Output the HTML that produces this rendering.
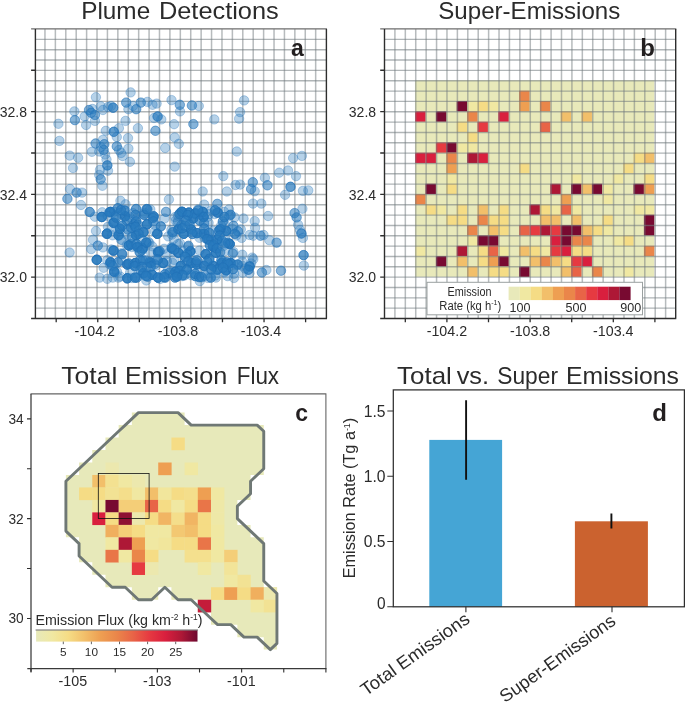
<!DOCTYPE html>
<html><head><meta charset="utf-8"><title>Figure</title>
<style>html,body{margin:0;padding:0;background:#fff}svg{display:block;font-family:"Liberation Sans", sans-serif}</style></head>
<body><svg width="685" height="702" viewBox="0 0 685 702">
<rect width="685" height="702" fill="#fff"/>
<path d="M44.96 28.9V318.5M55.37 28.9V318.5M65.79 28.9V318.5M76.20 28.9V318.5M86.61 28.9V318.5M97.02 28.9V318.5M107.43 28.9V318.5M117.85 28.9V318.5M128.26 28.9V318.5M138.67 28.9V318.5M149.08 28.9V318.5M159.49 28.9V318.5M169.91 28.9V318.5M180.32 28.9V318.5M190.73 28.9V318.5M201.14 28.9V318.5M211.55 28.9V318.5M221.97 28.9V318.5M232.38 28.9V318.5M242.79 28.9V318.5M253.20 28.9V318.5M263.61 28.9V318.5M274.03 28.9V318.5M284.44 28.9V318.5M294.85 28.9V318.5M305.26 28.9V318.5M315.67 28.9V318.5" stroke="#6f787b" stroke-opacity="0.5" stroke-width="1.5" fill="none"/>
<path d="M35.4 39.39H326.4M35.4 49.72H326.4M35.4 60.06H326.4M35.4 70.40H326.4M35.4 80.74H326.4M35.4 91.08H326.4M35.4 101.41H326.4M35.4 111.75H326.4M35.4 122.09H326.4M35.4 132.43H326.4M35.4 142.76H326.4M35.4 153.10H326.4M35.4 163.44H326.4M35.4 173.77H326.4M35.4 184.11H326.4M35.4 194.45H326.4M35.4 204.79H326.4M35.4 215.12H326.4M35.4 225.46H326.4M35.4 235.80H326.4M35.4 246.14H326.4M35.4 256.48H326.4M35.4 266.81H326.4M35.4 277.15H326.4M35.4 287.49H326.4M35.4 297.83H326.4M35.4 308.16H326.4" stroke="#6f787b" stroke-opacity="0.55" stroke-width="1.4" fill="none"/>
<g fill="#2a7abf" fill-opacity="0.34" stroke="#2472b8" stroke-opacity="0.4" stroke-width="0.8"><circle cx="58.4" cy="123.8" r="4.7"/><circle cx="59.4" cy="140.9" r="4.7"/><circle cx="74.4" cy="111.4" r="4.7"/><circle cx="74.9" cy="120.1" r="4.7"/><circle cx="74.9" cy="120.1" r="4.7"/><circle cx="69.7" cy="155.6" r="4.7"/><circle cx="78.1" cy="157.7" r="4.7"/><circle cx="73.0" cy="168.0" r="4.7"/><circle cx="95.9" cy="97.2" r="4.7"/><circle cx="84.6" cy="116.5" r="4.7"/><circle cx="86.1" cy="125.0" r="4.7"/><circle cx="89.0" cy="110.0" r="4.7"/><circle cx="89.0" cy="110.0" r="4.7"/><circle cx="91.2" cy="112.8" r="4.7"/><circle cx="91.2" cy="112.8" r="4.7"/><circle cx="94.9" cy="115.0" r="4.7"/><circle cx="94.9" cy="115.0" r="4.7"/><circle cx="94.9" cy="120.9" r="4.7"/><circle cx="92.5" cy="109.0" r="4.7"/><circle cx="100.7" cy="106.3" r="4.7"/><circle cx="102.9" cy="110.0" r="4.7"/><circle cx="108.0" cy="107.0" r="4.7"/><circle cx="113.1" cy="107.7" r="4.7"/><circle cx="113.1" cy="107.7" r="4.7"/><circle cx="113.1" cy="107.7" r="4.7"/><circle cx="111.0" cy="106.0" r="4.7"/><circle cx="126.2" cy="102.6" r="4.7"/><circle cx="126.2" cy="102.6" r="4.7"/><circle cx="130.6" cy="92.4" r="4.7"/><circle cx="128.4" cy="109.2" r="4.7"/><circle cx="125.5" cy="120.9" r="4.7"/><circle cx="105.8" cy="130.8" r="4.7"/><circle cx="113.8" cy="131.8" r="4.7"/><circle cx="113.8" cy="131.8" r="4.7"/><circle cx="113.8" cy="131.8" r="4.7"/><circle cx="118.9" cy="128.2" r="4.7"/><circle cx="116.8" cy="137.0" r="4.7"/><circle cx="128.0" cy="138.1" r="4.7"/><circle cx="95.6" cy="143.5" r="4.7"/><circle cx="95.6" cy="143.5" r="4.7"/><circle cx="102.9" cy="139.9" r="4.7"/><circle cx="104.3" cy="144.2" r="4.7"/><circle cx="104.3" cy="144.2" r="4.7"/><circle cx="91.9" cy="151.8" r="4.7"/><circle cx="99.2" cy="151.5" r="4.7"/><circle cx="103.6" cy="150.0" r="4.7"/><circle cx="103.6" cy="150.0" r="4.7"/><circle cx="105.1" cy="154.5" r="4.7"/><circle cx="116.8" cy="146.4" r="4.7"/><circle cx="116.8" cy="146.4" r="4.7"/><circle cx="121.1" cy="153.0" r="4.7"/><circle cx="122.6" cy="156.0" r="4.7"/><circle cx="128.4" cy="148.6" r="4.7"/><circle cx="129.9" cy="161.8" r="4.7"/><circle cx="106.5" cy="159.6" r="4.7"/><circle cx="107.3" cy="165.4" r="4.7"/><circle cx="107.3" cy="165.4" r="4.7"/><circle cx="107.3" cy="165.4" r="4.7"/><circle cx="100.0" cy="169.8" r="4.7"/><circle cx="99.2" cy="174.9" r="4.7"/><circle cx="100.7" cy="179.3" r="4.7"/><circle cx="100.7" cy="179.3" r="4.7"/><circle cx="119.0" cy="150.0" r="4.7"/><circle cx="101.0" cy="147.0" r="4.7"/><circle cx="140.8" cy="102.6" r="4.7"/><circle cx="140.8" cy="102.6" r="4.7"/><circle cx="147.4" cy="101.9" r="4.7"/><circle cx="152.5" cy="104.8" r="4.7"/><circle cx="156.6" cy="103.6" r="4.7"/><circle cx="136.2" cy="109.2" r="4.7"/><circle cx="136.2" cy="109.2" r="4.7"/><circle cx="133.0" cy="106.0" r="4.7"/><circle cx="137.9" cy="128.2" r="4.7"/><circle cx="171.5" cy="100.1" r="4.7"/><circle cx="179.8" cy="104.8" r="4.7"/><circle cx="179.8" cy="104.8" r="4.7"/><circle cx="180.0" cy="111.4" r="4.7"/><circle cx="191.9" cy="105.5" r="4.7"/><circle cx="191.9" cy="105.5" r="4.7"/><circle cx="198.8" cy="106.0" r="4.7"/><circle cx="157.6" cy="116.5" r="4.7"/><circle cx="157.6" cy="116.5" r="4.7"/><circle cx="157.6" cy="116.5" r="4.7"/><circle cx="161.3" cy="119.4" r="4.7"/><circle cx="154.0" cy="118.0" r="4.7"/><circle cx="155.4" cy="130.8" r="4.7"/><circle cx="155.4" cy="130.8" r="4.7"/><circle cx="174.1" cy="124.2" r="4.7"/><circle cx="193.4" cy="124.1" r="4.7"/><circle cx="193.4" cy="124.1" r="4.7"/><circle cx="214.3" cy="119.4" r="4.7"/><circle cx="174.7" cy="137.4" r="4.7"/><circle cx="178.8" cy="143.8" r="4.7"/><circle cx="165.2" cy="147.9" r="4.7"/><circle cx="174.7" cy="166.6" r="4.7"/><circle cx="223.3" cy="176.1" r="4.7"/><circle cx="244.1" cy="100.4" r="4.7"/><circle cx="240.1" cy="112.1" r="4.7"/><circle cx="239.1" cy="118.7" r="4.7"/><circle cx="236.8" cy="151.5" r="4.7"/><circle cx="293.1" cy="158.1" r="4.7"/><circle cx="301.9" cy="155.9" r="4.7"/><circle cx="279.2" cy="172.7" r="4.7"/><circle cx="288.0" cy="170.5" r="4.7"/><circle cx="296.0" cy="176.1" r="4.7"/><circle cx="264.9" cy="177.8" r="4.7"/><circle cx="252.8" cy="182.2" r="4.7"/><circle cx="252.8" cy="182.2" r="4.7"/><circle cx="70.0" cy="189.0" r="4.7"/><circle cx="76.6" cy="192.6" r="4.7"/><circle cx="76.6" cy="192.6" r="4.7"/><circle cx="82.0" cy="192.6" r="4.7"/><circle cx="67.4" cy="198.8" r="4.7"/><circle cx="67.4" cy="198.8" r="4.7"/><circle cx="81.0" cy="205.0" r="4.7"/><circle cx="89.7" cy="212.0" r="4.7"/><circle cx="89.7" cy="212.0" r="4.7"/><circle cx="89.7" cy="212.0" r="4.7"/><circle cx="102.4" cy="185.8" r="4.7"/><circle cx="108.0" cy="170.7" r="4.7"/><circle cx="69.6" cy="252.5" r="4.7"/><circle cx="96.0" cy="231.0" r="4.7"/><circle cx="93.0" cy="239.8" r="4.7"/><circle cx="97.8" cy="245.6" r="4.7"/><circle cx="97.8" cy="245.6" r="4.7"/><circle cx="91.2" cy="249.1" r="4.7"/><circle cx="102.9" cy="247.4" r="4.7"/><circle cx="96.8" cy="259.8" r="4.7"/><circle cx="96.8" cy="259.8" r="4.7"/><circle cx="96.8" cy="259.8" r="4.7"/><circle cx="96.8" cy="259.8" r="4.7"/><circle cx="96.8" cy="259.8" r="4.7"/><circle cx="96.8" cy="259.8" r="4.7"/><circle cx="120.4" cy="200.7" r="4.7"/><circle cx="125.5" cy="204.3" r="4.7"/><circle cx="94.9" cy="216.7" r="4.7"/><circle cx="102.2" cy="212.3" r="4.7"/><circle cx="103.6" cy="267.8" r="4.7"/><circle cx="267.4" cy="185.3" r="4.7"/><circle cx="267.4" cy="185.3" r="4.7"/><circle cx="240.1" cy="184.6" r="4.7"/><circle cx="235.5" cy="185.0" r="4.7"/><circle cx="251.1" cy="189.0" r="4.7"/><circle cx="251.1" cy="189.0" r="4.7"/><circle cx="254.7" cy="191.2" r="4.7"/><circle cx="290.5" cy="186.8" r="4.7"/><circle cx="290.5" cy="186.8" r="4.7"/><circle cx="290.5" cy="186.8" r="4.7"/><circle cx="285.1" cy="194.8" r="4.7"/><circle cx="302.9" cy="190.9" r="4.7"/><circle cx="308.3" cy="190.4" r="4.7"/><circle cx="253.0" cy="203.6" r="4.7"/><circle cx="261.3" cy="203.6" r="4.7"/><circle cx="302.4" cy="208.7" r="4.7"/><circle cx="294.6" cy="213.1" r="4.7"/><circle cx="294.6" cy="213.1" r="4.7"/><circle cx="296.6" cy="217.4" r="4.7"/><circle cx="296.6" cy="217.4" r="4.7"/><circle cx="298.1" cy="224.7" r="4.7"/><circle cx="300.0" cy="229.9" r="4.7"/><circle cx="301.4" cy="233.5" r="4.7"/><circle cx="301.4" cy="233.5" r="4.7"/><circle cx="301.4" cy="233.5" r="4.7"/><circle cx="302.9" cy="237.9" r="4.7"/><circle cx="268.1" cy="216.0" r="4.7"/><circle cx="243.5" cy="218.5" r="4.7"/><circle cx="254.7" cy="221.1" r="4.7"/><circle cx="255.1" cy="227.7" r="4.7"/><circle cx="249.6" cy="235.0" r="4.7"/><circle cx="253.2" cy="235.7" r="4.7"/><circle cx="260.5" cy="235.7" r="4.7"/><circle cx="260.5" cy="235.7" r="4.7"/><circle cx="263.5" cy="235.0" r="4.7"/><circle cx="269.3" cy="240.1" r="4.7"/><circle cx="276.6" cy="242.6" r="4.7"/><circle cx="276.6" cy="242.6" r="4.7"/><circle cx="237.9" cy="231.3" r="4.7"/><circle cx="237.9" cy="231.3" r="4.7"/><circle cx="241.6" cy="237.9" r="4.7"/><circle cx="303.6" cy="255.1" r="4.7"/><circle cx="303.6" cy="255.1" r="4.7"/><circle cx="303.6" cy="255.1" r="4.7"/><circle cx="303.9" cy="265.6" r="4.7"/><circle cx="242.3" cy="254.7" r="4.7"/><circle cx="251.1" cy="263.4" r="4.7"/><circle cx="249.6" cy="266.4" r="4.7"/><circle cx="249.6" cy="266.4" r="4.7"/><circle cx="249.6" cy="266.4" r="4.7"/><circle cx="249.6" cy="266.4" r="4.7"/><circle cx="249.6" cy="266.4" r="4.7"/><circle cx="266.4" cy="270.0" r="4.7"/><circle cx="281.0" cy="270.7" r="4.7"/><circle cx="281.0" cy="270.7" r="4.7"/><circle cx="101.8" cy="217.0" r="4.7"/><circle cx="101.8" cy="217.0" r="4.7"/><circle cx="101.8" cy="217.0" r="4.7"/><circle cx="101.8" cy="217.0" r="4.7"/><circle cx="101.8" cy="217.0" r="4.7"/><circle cx="101.8" cy="217.0" r="4.7"/><circle cx="110.5" cy="211.9" r="4.7"/><circle cx="110.5" cy="211.9" r="4.7"/><circle cx="110.5" cy="211.9" r="4.7"/><circle cx="110.5" cy="211.9" r="4.7"/><circle cx="110.5" cy="211.9" r="4.7"/><circle cx="110.5" cy="211.9" r="4.7"/><circle cx="117.8" cy="208.2" r="4.7"/><circle cx="117.8" cy="208.2" r="4.7"/><circle cx="117.8" cy="208.2" r="4.7"/><circle cx="113.5" cy="222.8" r="4.7"/><circle cx="113.5" cy="222.8" r="4.7"/><circle cx="113.5" cy="222.8" r="4.7"/><circle cx="113.5" cy="222.8" r="4.7"/><circle cx="113.5" cy="222.8" r="4.7"/><circle cx="113.5" cy="222.8" r="4.7"/><circle cx="125.1" cy="216.3" r="4.7"/><circle cx="125.1" cy="216.3" r="4.7"/><circle cx="125.1" cy="216.3" r="4.7"/><circle cx="125.1" cy="216.3" r="4.7"/><circle cx="125.1" cy="216.3" r="4.7"/><circle cx="125.1" cy="216.3" r="4.7"/><circle cx="124.4" cy="210.4" r="4.7"/><circle cx="124.4" cy="210.4" r="4.7"/><circle cx="124.4" cy="210.4" r="4.7"/><circle cx="136.1" cy="209.0" r="4.7"/><circle cx="136.1" cy="209.0" r="4.7"/><circle cx="136.1" cy="209.0" r="4.7"/><circle cx="144.1" cy="214.8" r="4.7"/><circle cx="144.1" cy="214.8" r="4.7"/><circle cx="144.1" cy="214.8" r="4.7"/><circle cx="144.1" cy="214.8" r="4.7"/><circle cx="153.6" cy="216.3" r="4.7"/><circle cx="153.6" cy="216.3" r="4.7"/><circle cx="153.6" cy="216.3" r="4.7"/><circle cx="153.6" cy="216.3" r="4.7"/><circle cx="147.0" cy="224.3" r="4.7"/><circle cx="147.0" cy="224.3" r="4.7"/><circle cx="147.0" cy="224.3" r="4.7"/><circle cx="147.0" cy="224.3" r="4.7"/><circle cx="147.0" cy="224.3" r="4.7"/><circle cx="147.0" cy="224.3" r="4.7"/><circle cx="133.9" cy="224.3" r="4.7"/><circle cx="133.9" cy="224.3" r="4.7"/><circle cx="133.9" cy="224.3" r="4.7"/><circle cx="106.9" cy="233.8" r="4.7"/><circle cx="106.9" cy="233.8" r="4.7"/><circle cx="106.9" cy="233.8" r="4.7"/><circle cx="106.9" cy="233.8" r="4.7"/><circle cx="106.9" cy="233.8" r="4.7"/><circle cx="106.9" cy="233.8" r="4.7"/><circle cx="118.6" cy="235.3" r="4.7"/><circle cx="118.6" cy="235.3" r="4.7"/><circle cx="118.6" cy="235.3" r="4.7"/><circle cx="118.6" cy="235.3" r="4.7"/><circle cx="118.6" cy="235.3" r="4.7"/><circle cx="118.6" cy="235.3" r="4.7"/><circle cx="120.0" cy="228.7" r="4.7"/><circle cx="120.0" cy="228.7" r="4.7"/><circle cx="120.0" cy="228.7" r="4.7"/><circle cx="120.0" cy="228.7" r="4.7"/><circle cx="120.0" cy="228.7" r="4.7"/><circle cx="120.0" cy="228.7" r="4.7"/><circle cx="136.1" cy="235.3" r="4.7"/><circle cx="136.1" cy="235.3" r="4.7"/><circle cx="136.1" cy="235.3" r="4.7"/><circle cx="136.1" cy="235.3" r="4.7"/><circle cx="136.1" cy="235.3" r="4.7"/><circle cx="136.1" cy="235.3" r="4.7"/><circle cx="143.4" cy="232.3" r="4.7"/><circle cx="143.4" cy="232.3" r="4.7"/><circle cx="143.4" cy="232.3" r="4.7"/><circle cx="143.4" cy="232.3" r="4.7"/><circle cx="143.4" cy="232.3" r="4.7"/><circle cx="143.4" cy="232.3" r="4.7"/><circle cx="157.3" cy="233.8" r="4.7"/><circle cx="157.3" cy="233.8" r="4.7"/><circle cx="157.3" cy="233.8" r="4.7"/><circle cx="157.3" cy="233.8" r="4.7"/><circle cx="157.3" cy="233.8" r="4.7"/><circle cx="157.3" cy="233.8" r="4.7"/><circle cx="128.8" cy="245.5" r="4.7"/><circle cx="128.8" cy="245.5" r="4.7"/><circle cx="128.8" cy="245.5" r="4.7"/><circle cx="128.8" cy="245.5" r="4.7"/><circle cx="128.8" cy="245.5" r="4.7"/><circle cx="128.8" cy="245.5" r="4.7"/><circle cx="142.7" cy="248.4" r="4.7"/><circle cx="142.7" cy="248.4" r="4.7"/><circle cx="142.7" cy="248.4" r="4.7"/><circle cx="142.7" cy="248.4" r="4.7"/><circle cx="142.7" cy="248.4" r="4.7"/><circle cx="142.7" cy="248.4" r="4.7"/><circle cx="146.3" cy="242.6" r="4.7"/><circle cx="146.3" cy="242.6" r="4.7"/><circle cx="146.3" cy="242.6" r="4.7"/><circle cx="146.3" cy="242.6" r="4.7"/><circle cx="146.3" cy="242.6" r="4.7"/><circle cx="146.3" cy="242.6" r="4.7"/><circle cx="137.6" cy="246.9" r="4.7"/><circle cx="137.6" cy="246.9" r="4.7"/><circle cx="137.6" cy="246.9" r="4.7"/><circle cx="137.6" cy="246.9" r="4.7"/><circle cx="137.6" cy="246.9" r="4.7"/><circle cx="137.6" cy="246.9" r="4.7"/><circle cx="158.0" cy="252.0" r="4.7"/><circle cx="158.0" cy="252.0" r="4.7"/><circle cx="158.0" cy="252.0" r="4.7"/><circle cx="158.0" cy="252.0" r="4.7"/><circle cx="158.0" cy="252.0" r="4.7"/><circle cx="158.0" cy="252.0" r="4.7"/><circle cx="171.9" cy="248.4" r="4.7"/><circle cx="171.9" cy="248.4" r="4.7"/><circle cx="171.9" cy="248.4" r="4.7"/><circle cx="171.9" cy="248.4" r="4.7"/><circle cx="171.9" cy="248.4" r="4.7"/><circle cx="171.9" cy="248.4" r="4.7"/><circle cx="113.5" cy="250.6" r="4.7"/><circle cx="113.5" cy="250.6" r="4.7"/><circle cx="113.5" cy="250.6" r="4.7"/><circle cx="113.5" cy="250.6" r="4.7"/><circle cx="113.5" cy="250.6" r="4.7"/><circle cx="113.5" cy="250.6" r="4.7"/><circle cx="122.2" cy="254.2" r="4.7"/><circle cx="122.2" cy="254.2" r="4.7"/><circle cx="122.2" cy="254.2" r="4.7"/><circle cx="110.5" cy="262.3" r="4.7"/><circle cx="110.5" cy="262.3" r="4.7"/><circle cx="110.5" cy="262.3" r="4.7"/><circle cx="110.5" cy="262.3" r="4.7"/><circle cx="110.5" cy="262.3" r="4.7"/><circle cx="110.5" cy="262.3" r="4.7"/><circle cx="114.2" cy="271.8" r="4.7"/><circle cx="114.2" cy="271.8" r="4.7"/><circle cx="114.2" cy="271.8" r="4.7"/><circle cx="114.2" cy="271.8" r="4.7"/><circle cx="114.2" cy="271.8" r="4.7"/><circle cx="114.2" cy="271.8" r="4.7"/><circle cx="127.3" cy="264.5" r="4.7"/><circle cx="127.3" cy="264.5" r="4.7"/><circle cx="127.3" cy="264.5" r="4.7"/><circle cx="127.3" cy="264.5" r="4.7"/><circle cx="127.3" cy="264.5" r="4.7"/><circle cx="127.3" cy="264.5" r="4.7"/><circle cx="127.3" cy="278.3" r="4.7"/><circle cx="127.3" cy="278.3" r="4.7"/><circle cx="127.3" cy="278.3" r="4.7"/><circle cx="127.3" cy="278.3" r="4.7"/><circle cx="127.3" cy="278.3" r="4.7"/><circle cx="127.3" cy="278.3" r="4.7"/><circle cx="135.4" cy="263.0" r="4.7"/><circle cx="135.4" cy="263.0" r="4.7"/><circle cx="135.4" cy="263.0" r="4.7"/><circle cx="135.4" cy="263.0" r="4.7"/><circle cx="135.4" cy="263.0" r="4.7"/><circle cx="135.4" cy="263.0" r="4.7"/><circle cx="143.4" cy="273.2" r="4.7"/><circle cx="143.4" cy="273.2" r="4.7"/><circle cx="143.4" cy="273.2" r="4.7"/><circle cx="143.4" cy="273.2" r="4.7"/><circle cx="143.4" cy="273.2" r="4.7"/><circle cx="143.4" cy="273.2" r="4.7"/><circle cx="150.7" cy="263.0" r="4.7"/><circle cx="150.7" cy="263.0" r="4.7"/><circle cx="150.7" cy="263.0" r="4.7"/><circle cx="150.7" cy="263.0" r="4.7"/><circle cx="150.7" cy="263.0" r="4.7"/><circle cx="150.7" cy="263.0" r="4.7"/><circle cx="152.2" cy="274.7" r="4.7"/><circle cx="152.2" cy="274.7" r="4.7"/><circle cx="152.2" cy="274.7" r="4.7"/><circle cx="152.2" cy="274.7" r="4.7"/><circle cx="152.2" cy="274.7" r="4.7"/><circle cx="152.2" cy="274.7" r="4.7"/><circle cx="163.1" cy="263.0" r="4.7"/><circle cx="163.1" cy="263.0" r="4.7"/><circle cx="163.1" cy="263.0" r="4.7"/><circle cx="163.1" cy="263.0" r="4.7"/><circle cx="163.1" cy="263.0" r="4.7"/><circle cx="163.1" cy="263.0" r="4.7"/><circle cx="158.0" cy="277.6" r="4.7"/><circle cx="158.0" cy="277.6" r="4.7"/><circle cx="158.0" cy="277.6" r="4.7"/><circle cx="158.0" cy="277.6" r="4.7"/><circle cx="158.0" cy="277.6" r="4.7"/><circle cx="158.0" cy="277.6" r="4.7"/><circle cx="175.5" cy="271.8" r="4.7"/><circle cx="175.5" cy="271.8" r="4.7"/><circle cx="175.5" cy="271.8" r="4.7"/><circle cx="175.5" cy="271.8" r="4.7"/><circle cx="175.5" cy="271.8" r="4.7"/><circle cx="175.5" cy="271.8" r="4.7"/><circle cx="177.0" cy="276.1" r="4.7"/><circle cx="177.0" cy="276.1" r="4.7"/><circle cx="177.0" cy="276.1" r="4.7"/><circle cx="177.0" cy="276.1" r="4.7"/><circle cx="177.0" cy="276.1" r="4.7"/><circle cx="177.0" cy="276.1" r="4.7"/><circle cx="182.1" cy="211.9" r="4.7"/><circle cx="182.1" cy="211.9" r="4.7"/><circle cx="182.1" cy="211.9" r="4.7"/><circle cx="182.1" cy="211.9" r="4.7"/><circle cx="182.1" cy="211.9" r="4.7"/><circle cx="182.1" cy="211.9" r="4.7"/><circle cx="178.4" cy="229.4" r="4.7"/><circle cx="178.4" cy="229.4" r="4.7"/><circle cx="178.4" cy="229.4" r="4.7"/><circle cx="178.4" cy="229.4" r="4.7"/><circle cx="178.4" cy="229.4" r="4.7"/><circle cx="178.4" cy="229.4" r="4.7"/><circle cx="172.6" cy="232.3" r="4.7"/><circle cx="172.6" cy="232.3" r="4.7"/><circle cx="172.6" cy="232.3" r="4.7"/><circle cx="168.9" cy="199.5" r="4.7"/><circle cx="166.0" cy="211.9" r="4.7"/><circle cx="166.0" cy="211.9" r="4.7"/><circle cx="164.6" cy="218.5" r="4.7"/><circle cx="99.6" cy="277.6" r="4.7"/><circle cx="112.7" cy="277.6" r="4.7"/><circle cx="136.8" cy="277.6" r="4.7"/><circle cx="136.8" cy="277.6" r="4.7"/><circle cx="136.8" cy="277.6" r="4.7"/><circle cx="146.3" cy="280.5" r="4.7"/><circle cx="165.3" cy="277.6" r="4.7"/><circle cx="165.3" cy="277.6" r="4.7"/><circle cx="165.3" cy="277.6" r="4.7"/><circle cx="172.6" cy="263.0" r="4.7"/><circle cx="178.4" cy="252.8" r="4.7"/><circle cx="178.4" cy="252.8" r="4.7"/><circle cx="178.4" cy="252.8" r="4.7"/><circle cx="178.4" cy="252.8" r="4.7"/><circle cx="178.4" cy="252.8" r="4.7"/><circle cx="178.4" cy="252.8" r="4.7"/><circle cx="166.8" cy="254.2" r="4.7"/><circle cx="175.5" cy="220.7" r="4.7"/><circle cx="181.4" cy="225.0" r="4.7"/><circle cx="181.4" cy="225.0" r="4.7"/><circle cx="188.9" cy="212.6" r="4.7"/><circle cx="188.9" cy="212.6" r="4.7"/><circle cx="188.9" cy="212.6" r="4.7"/><circle cx="188.9" cy="212.6" r="4.7"/><circle cx="188.9" cy="212.6" r="4.7"/><circle cx="188.9" cy="212.6" r="4.7"/><circle cx="195.4" cy="213.4" r="4.7"/><circle cx="195.4" cy="213.4" r="4.7"/><circle cx="195.4" cy="213.4" r="4.7"/><circle cx="195.4" cy="213.4" r="4.7"/><circle cx="195.4" cy="213.4" r="4.7"/><circle cx="195.4" cy="213.4" r="4.7"/><circle cx="202.7" cy="211.9" r="4.7"/><circle cx="202.7" cy="211.9" r="4.7"/><circle cx="202.7" cy="211.9" r="4.7"/><circle cx="202.7" cy="211.9" r="4.7"/><circle cx="202.7" cy="211.9" r="4.7"/><circle cx="202.7" cy="211.9" r="4.7"/><circle cx="193.2" cy="218.5" r="4.7"/><circle cx="193.2" cy="218.5" r="4.7"/><circle cx="193.2" cy="218.5" r="4.7"/><circle cx="193.2" cy="218.5" r="4.7"/><circle cx="193.2" cy="218.5" r="4.7"/><circle cx="193.2" cy="218.5" r="4.7"/><circle cx="203.5" cy="217.0" r="4.7"/><circle cx="203.5" cy="217.0" r="4.7"/><circle cx="203.5" cy="217.0" r="4.7"/><circle cx="203.5" cy="217.0" r="4.7"/><circle cx="203.5" cy="217.0" r="4.7"/><circle cx="203.5" cy="217.0" r="4.7"/><circle cx="217.6" cy="212.6" r="4.7"/><circle cx="217.6" cy="212.6" r="4.7"/><circle cx="217.6" cy="212.6" r="4.7"/><circle cx="217.6" cy="212.6" r="4.7"/><circle cx="217.6" cy="212.6" r="4.7"/><circle cx="217.6" cy="212.6" r="4.7"/><circle cx="230.5" cy="214.8" r="4.7"/><circle cx="230.5" cy="214.8" r="4.7"/><circle cx="230.5" cy="214.8" r="4.7"/><circle cx="222.9" cy="221.4" r="4.7"/><circle cx="222.9" cy="221.4" r="4.7"/><circle cx="222.9" cy="221.4" r="4.7"/><circle cx="183.8" cy="233.8" r="4.7"/><circle cx="183.8" cy="233.8" r="4.7"/><circle cx="183.8" cy="233.8" r="4.7"/><circle cx="183.8" cy="233.8" r="4.7"/><circle cx="183.8" cy="233.8" r="4.7"/><circle cx="183.8" cy="233.8" r="4.7"/><circle cx="191.1" cy="229.4" r="4.7"/><circle cx="191.1" cy="229.4" r="4.7"/><circle cx="191.1" cy="229.4" r="4.7"/><circle cx="191.1" cy="229.4" r="4.7"/><circle cx="191.1" cy="229.4" r="4.7"/><circle cx="191.1" cy="229.4" r="4.7"/><circle cx="196.9" cy="233.1" r="4.7"/><circle cx="196.9" cy="233.1" r="4.7"/><circle cx="196.9" cy="233.1" r="4.7"/><circle cx="196.9" cy="233.1" r="4.7"/><circle cx="196.9" cy="233.1" r="4.7"/><circle cx="196.9" cy="233.1" r="4.7"/><circle cx="204.2" cy="233.8" r="4.7"/><circle cx="204.2" cy="233.8" r="4.7"/><circle cx="204.2" cy="233.8" r="4.7"/><circle cx="204.2" cy="233.8" r="4.7"/><circle cx="204.2" cy="233.8" r="4.7"/><circle cx="204.2" cy="233.8" r="4.7"/><circle cx="208.6" cy="239.6" r="4.7"/><circle cx="208.6" cy="239.6" r="4.7"/><circle cx="208.6" cy="239.6" r="4.7"/><circle cx="208.6" cy="239.6" r="4.7"/><circle cx="208.6" cy="239.6" r="4.7"/><circle cx="208.6" cy="239.6" r="4.7"/><circle cx="217.3" cy="239.6" r="4.7"/><circle cx="217.3" cy="239.6" r="4.7"/><circle cx="217.3" cy="239.6" r="4.7"/><circle cx="217.3" cy="239.6" r="4.7"/><circle cx="217.3" cy="239.6" r="4.7"/><circle cx="217.3" cy="239.6" r="4.7"/><circle cx="226.1" cy="230.9" r="4.7"/><circle cx="226.1" cy="230.9" r="4.7"/><circle cx="226.1" cy="230.9" r="4.7"/><circle cx="226.1" cy="230.9" r="4.7"/><circle cx="226.1" cy="230.9" r="4.7"/><circle cx="226.1" cy="230.9" r="4.7"/><circle cx="220.3" cy="229.4" r="4.7"/><circle cx="220.3" cy="229.4" r="4.7"/><circle cx="220.3" cy="229.4" r="4.7"/><circle cx="220.3" cy="229.4" r="4.7"/><circle cx="220.3" cy="229.4" r="4.7"/><circle cx="220.3" cy="229.4" r="4.7"/><circle cx="229.7" cy="244.0" r="4.7"/><circle cx="229.7" cy="244.0" r="4.7"/><circle cx="229.7" cy="244.0" r="4.7"/><circle cx="229.7" cy="244.0" r="4.7"/><circle cx="229.7" cy="244.0" r="4.7"/><circle cx="229.7" cy="244.0" r="4.7"/><circle cx="213.0" cy="246.9" r="4.7"/><circle cx="213.0" cy="246.9" r="4.7"/><circle cx="213.0" cy="246.9" r="4.7"/><circle cx="213.0" cy="246.9" r="4.7"/><circle cx="213.0" cy="246.9" r="4.7"/><circle cx="213.0" cy="246.9" r="4.7"/><circle cx="215.9" cy="252.8" r="4.7"/><circle cx="215.9" cy="252.8" r="4.7"/><circle cx="215.9" cy="252.8" r="4.7"/><circle cx="215.9" cy="252.8" r="4.7"/><circle cx="215.9" cy="252.8" r="4.7"/><circle cx="215.9" cy="252.8" r="4.7"/><circle cx="205.7" cy="254.2" r="4.7"/><circle cx="205.7" cy="254.2" r="4.7"/><circle cx="205.7" cy="254.2" r="4.7"/><circle cx="205.7" cy="254.2" r="4.7"/><circle cx="205.7" cy="254.2" r="4.7"/><circle cx="205.7" cy="254.2" r="4.7"/><circle cx="190.3" cy="251.3" r="4.7"/><circle cx="190.3" cy="251.3" r="4.7"/><circle cx="190.3" cy="251.3" r="4.7"/><circle cx="190.3" cy="251.3" r="4.7"/><circle cx="190.3" cy="251.3" r="4.7"/><circle cx="190.3" cy="251.3" r="4.7"/><circle cx="191.1" cy="263.0" r="4.7"/><circle cx="191.1" cy="263.0" r="4.7"/><circle cx="191.1" cy="263.0" r="4.7"/><circle cx="191.1" cy="263.0" r="4.7"/><circle cx="191.1" cy="263.0" r="4.7"/><circle cx="191.1" cy="263.0" r="4.7"/><circle cx="196.9" cy="264.5" r="4.7"/><circle cx="196.9" cy="264.5" r="4.7"/><circle cx="196.9" cy="264.5" r="4.7"/><circle cx="196.9" cy="264.5" r="4.7"/><circle cx="196.9" cy="264.5" r="4.7"/><circle cx="196.9" cy="264.5" r="4.7"/><circle cx="204.2" cy="265.9" r="4.7"/><circle cx="204.2" cy="265.9" r="4.7"/><circle cx="204.2" cy="265.9" r="4.7"/><circle cx="204.2" cy="265.9" r="4.7"/><circle cx="204.2" cy="265.9" r="4.7"/><circle cx="204.2" cy="265.9" r="4.7"/><circle cx="213.0" cy="265.9" r="4.7"/><circle cx="213.0" cy="265.9" r="4.7"/><circle cx="213.0" cy="265.9" r="4.7"/><circle cx="213.0" cy="265.9" r="4.7"/><circle cx="213.0" cy="265.9" r="4.7"/><circle cx="213.0" cy="265.9" r="4.7"/><circle cx="221.7" cy="263.0" r="4.7"/><circle cx="221.7" cy="263.0" r="4.7"/><circle cx="221.7" cy="263.0" r="4.7"/><circle cx="221.7" cy="263.0" r="4.7"/><circle cx="221.7" cy="263.0" r="4.7"/><circle cx="221.7" cy="263.0" r="4.7"/><circle cx="230.5" cy="263.0" r="4.7"/><circle cx="230.5" cy="263.0" r="4.7"/><circle cx="230.5" cy="263.0" r="4.7"/><circle cx="230.5" cy="263.0" r="4.7"/><circle cx="230.5" cy="263.0" r="4.7"/><circle cx="230.5" cy="263.0" r="4.7"/><circle cx="226.1" cy="270.3" r="4.7"/><circle cx="226.1" cy="270.3" r="4.7"/><circle cx="226.1" cy="270.3" r="4.7"/><circle cx="226.1" cy="270.3" r="4.7"/><circle cx="226.1" cy="270.3" r="4.7"/><circle cx="226.1" cy="270.3" r="4.7"/><circle cx="217.3" cy="269.6" r="4.7"/><circle cx="217.3" cy="269.6" r="4.7"/><circle cx="217.3" cy="269.6" r="4.7"/><circle cx="217.3" cy="269.6" r="4.7"/><circle cx="217.3" cy="269.6" r="4.7"/><circle cx="217.3" cy="269.6" r="4.7"/><circle cx="210.8" cy="277.6" r="4.7"/><circle cx="210.8" cy="277.6" r="4.7"/><circle cx="210.8" cy="277.6" r="4.7"/><circle cx="177.9" cy="273.2" r="4.7"/><circle cx="177.9" cy="273.2" r="4.7"/><circle cx="177.9" cy="273.2" r="4.7"/><circle cx="177.9" cy="273.2" r="4.7"/><circle cx="177.9" cy="273.2" r="4.7"/><circle cx="177.9" cy="273.2" r="4.7"/><circle cx="180.8" cy="265.9" r="4.7"/><circle cx="180.8" cy="265.9" r="4.7"/><circle cx="180.8" cy="265.9" r="4.7"/><circle cx="180.8" cy="265.9" r="4.7"/><circle cx="180.8" cy="265.9" r="4.7"/><circle cx="180.8" cy="265.9" r="4.7"/><circle cx="195.4" cy="276.1" r="4.7"/><circle cx="195.4" cy="276.1" r="4.7"/><circle cx="195.4" cy="276.1" r="4.7"/><circle cx="199.8" cy="281.2" r="4.7"/><circle cx="185.2" cy="274.7" r="4.7"/><circle cx="215.9" cy="277.6" r="4.7"/><circle cx="227.6" cy="276.1" r="4.7"/><circle cx="237.8" cy="264.5" r="4.7"/><circle cx="237.8" cy="264.5" r="4.7"/><circle cx="237.8" cy="264.5" r="4.7"/><circle cx="242.2" cy="261.5" r="4.7"/><circle cx="249.5" cy="273.2" r="4.7"/><circle cx="261.9" cy="272.5" r="4.7"/><circle cx="261.9" cy="272.5" r="4.7"/><circle cx="232.7" cy="253.5" r="4.7"/><circle cx="232.7" cy="253.5" r="4.7"/><circle cx="224.6" cy="251.3" r="4.7"/><circle cx="233.4" cy="225.8" r="4.7"/><circle cx="233.4" cy="225.8" r="4.7"/><circle cx="217.3" cy="203.9" r="4.7"/><circle cx="217.3" cy="203.9" r="4.7"/><circle cx="204.2" cy="204.6" r="4.7"/><circle cx="202.7" cy="191.5" r="4.7"/><circle cx="226.8" cy="191.5" r="4.7"/><circle cx="208.6" cy="222.8" r="4.7"/><circle cx="211.5" cy="210.4" r="4.7"/><circle cx="177.9" cy="220.7" r="4.7"/><circle cx="183.8" cy="222.1" r="4.7"/><circle cx="188.1" cy="246.9" r="4.7"/><circle cx="177.9" cy="244.0" r="4.7"/><circle cx="185.2" cy="260.1" r="4.7"/><circle cx="182.3" cy="276.1" r="4.7"/><circle cx="109.5" cy="212.4" r="4.7"/><circle cx="109.5" cy="212.4" r="4.7"/><circle cx="109.5" cy="212.4" r="4.7"/><circle cx="114.2" cy="211.8" r="4.7"/><circle cx="120.9" cy="210.1" r="4.7"/><circle cx="120.9" cy="210.1" r="4.7"/><circle cx="120.9" cy="210.1" r="4.7"/><circle cx="120.1" cy="212.8" r="4.7"/><circle cx="125.9" cy="210.8" r="4.7"/><circle cx="133.1" cy="213.2" r="4.7"/><circle cx="135.4" cy="214.9" r="4.7"/><circle cx="135.4" cy="214.9" r="4.7"/><circle cx="135.4" cy="214.9" r="4.7"/><circle cx="144.6" cy="212.9" r="4.7"/><circle cx="146.6" cy="209.1" r="4.7"/><circle cx="146.6" cy="209.1" r="4.7"/><circle cx="146.6" cy="209.1" r="4.7"/><circle cx="150.3" cy="209.4" r="4.7"/><circle cx="147.4" cy="209.2" r="4.7"/><circle cx="147.4" cy="209.2" r="4.7"/><circle cx="179.4" cy="214.1" r="4.7"/><circle cx="179.4" cy="214.1" r="4.7"/><circle cx="179.4" cy="214.1" r="4.7"/><circle cx="180.2" cy="212.8" r="4.7"/><circle cx="181.6" cy="211.7" r="4.7"/><circle cx="181.6" cy="211.7" r="4.7"/><circle cx="187.8" cy="215.0" r="4.7"/><circle cx="187.8" cy="215.0" r="4.7"/><circle cx="187.8" cy="215.0" r="4.7"/><circle cx="195.0" cy="214.0" r="4.7"/><circle cx="198.2" cy="210.4" r="4.7"/><circle cx="198.2" cy="210.4" r="4.7"/><circle cx="198.2" cy="210.4" r="4.7"/><circle cx="197.9" cy="209.4" r="4.7"/><circle cx="209.0" cy="214.1" r="4.7"/><circle cx="214.6" cy="214.1" r="4.7"/><circle cx="215.0" cy="210.3" r="4.7"/><circle cx="215.0" cy="210.3" r="4.7"/><circle cx="215.0" cy="210.3" r="4.7"/><circle cx="224.1" cy="211.8" r="4.7"/><circle cx="229.0" cy="209.4" r="4.7"/><circle cx="107.7" cy="215.9" r="4.7"/><circle cx="114.6" cy="222.6" r="4.7"/><circle cx="116.2" cy="217.5" r="4.7"/><circle cx="116.2" cy="217.5" r="4.7"/><circle cx="116.2" cy="217.5" r="4.7"/><circle cx="116.0" cy="215.6" r="4.7"/><circle cx="126.8" cy="220.6" r="4.7"/><circle cx="126.8" cy="220.6" r="4.7"/><circle cx="126.8" cy="220.6" r="4.7"/><circle cx="129.5" cy="216.9" r="4.7"/><circle cx="136.3" cy="221.4" r="4.7"/><circle cx="136.3" cy="221.4" r="4.7"/><circle cx="136.3" cy="221.4" r="4.7"/><circle cx="136.2" cy="219.2" r="4.7"/><circle cx="137.7" cy="224.7" r="4.7"/><circle cx="137.7" cy="224.7" r="4.7"/><circle cx="153.0" cy="218.0" r="4.7"/><circle cx="153.0" cy="218.0" r="4.7"/><circle cx="153.0" cy="218.0" r="4.7"/><circle cx="153.8" cy="217.1" r="4.7"/><circle cx="153.5" cy="221.4" r="4.7"/><circle cx="153.5" cy="221.4" r="4.7"/><circle cx="174.9" cy="217.1" r="4.7"/><circle cx="177.6" cy="222.7" r="4.7"/><circle cx="178.0" cy="215.7" r="4.7"/><circle cx="185.9" cy="220.8" r="4.7"/><circle cx="185.9" cy="220.8" r="4.7"/><circle cx="185.9" cy="220.8" r="4.7"/><circle cx="187.4" cy="221.0" r="4.7"/><circle cx="189.5" cy="224.6" r="4.7"/><circle cx="189.5" cy="224.6" r="4.7"/><circle cx="199.8" cy="220.7" r="4.7"/><circle cx="199.8" cy="220.7" r="4.7"/><circle cx="199.8" cy="220.7" r="4.7"/><circle cx="203.7" cy="216.8" r="4.7"/><circle cx="204.1" cy="223.2" r="4.7"/><circle cx="204.1" cy="223.2" r="4.7"/><circle cx="207.5" cy="216.9" r="4.7"/><circle cx="224.4" cy="217.0" r="4.7"/><circle cx="224.4" cy="217.0" r="4.7"/><circle cx="224.4" cy="217.0" r="4.7"/><circle cx="224.5" cy="223.8" r="4.7"/><circle cx="229.2" cy="216.0" r="4.7"/><circle cx="234.6" cy="217.4" r="4.7"/><circle cx="107.6" cy="233.2" r="4.7"/><circle cx="107.9" cy="226.8" r="4.7"/><circle cx="122.2" cy="225.7" r="4.7"/><circle cx="122.2" cy="225.7" r="4.7"/><circle cx="122.2" cy="225.7" r="4.7"/><circle cx="117.3" cy="230.6" r="4.7"/><circle cx="131.1" cy="227.8" r="4.7"/><circle cx="131.1" cy="227.8" r="4.7"/><circle cx="131.1" cy="227.8" r="4.7"/><circle cx="134.2" cy="227.0" r="4.7"/><circle cx="127.7" cy="229.5" r="4.7"/><circle cx="127.7" cy="229.5" r="4.7"/><circle cx="135.6" cy="226.8" r="4.7"/><circle cx="135.6" cy="226.8" r="4.7"/><circle cx="135.6" cy="226.8" r="4.7"/><circle cx="138.7" cy="230.7" r="4.7"/><circle cx="138.6" cy="233.9" r="4.7"/><circle cx="138.6" cy="233.9" r="4.7"/><circle cx="154.8" cy="231.6" r="4.7"/><circle cx="160.8" cy="226.4" r="4.7"/><circle cx="160.8" cy="226.4" r="4.7"/><circle cx="160.8" cy="226.4" r="4.7"/><circle cx="155.4" cy="225.2" r="4.7"/><circle cx="172.0" cy="234.6" r="4.7"/><circle cx="171.4" cy="229.8" r="4.7"/><circle cx="182.3" cy="228.2" r="4.7"/><circle cx="182.3" cy="228.2" r="4.7"/><circle cx="182.3" cy="228.2" r="4.7"/><circle cx="185.0" cy="225.8" r="4.7"/><circle cx="192.4" cy="234.0" r="4.7"/><circle cx="192.4" cy="234.0" r="4.7"/><circle cx="192.4" cy="234.0" r="4.7"/><circle cx="192.4" cy="232.0" r="4.7"/><circle cx="204.2" cy="228.5" r="4.7"/><circle cx="204.2" cy="228.5" r="4.7"/><circle cx="204.2" cy="228.5" r="4.7"/><circle cx="201.9" cy="234.0" r="4.7"/><circle cx="209.2" cy="232.9" r="4.7"/><circle cx="209.2" cy="232.9" r="4.7"/><circle cx="209.2" cy="232.9" r="4.7"/><circle cx="213.6" cy="230.7" r="4.7"/><circle cx="218.8" cy="230.8" r="4.7"/><circle cx="218.8" cy="230.8" r="4.7"/><circle cx="218.8" cy="230.8" r="4.7"/><circle cx="221.1" cy="225.8" r="4.7"/><circle cx="234.9" cy="233.8" r="4.7"/><circle cx="234.9" cy="233.8" r="4.7"/><circle cx="234.9" cy="233.8" r="4.7"/><circle cx="232.3" cy="228.9" r="4.7"/><circle cx="240.8" cy="229.4" r="4.7"/><circle cx="112.5" cy="235.3" r="4.7"/><circle cx="121.0" cy="239.8" r="4.7"/><circle cx="122.0" cy="240.0" r="4.7"/><circle cx="131.1" cy="244.2" r="4.7"/><circle cx="131.1" cy="244.2" r="4.7"/><circle cx="131.1" cy="244.2" r="4.7"/><circle cx="127.6" cy="235.1" r="4.7"/><circle cx="131.8" cy="237.0" r="4.7"/><circle cx="131.8" cy="237.0" r="4.7"/><circle cx="136.7" cy="244.1" r="4.7"/><circle cx="136.7" cy="244.1" r="4.7"/><circle cx="136.7" cy="244.1" r="4.7"/><circle cx="141.6" cy="239.4" r="4.7"/><circle cx="148.3" cy="241.7" r="4.7"/><circle cx="149.3" cy="243.1" r="4.7"/><circle cx="173.8" cy="238.8" r="4.7"/><circle cx="168.2" cy="236.4" r="4.7"/><circle cx="180.0" cy="243.4" r="4.7"/><circle cx="204.5" cy="237.8" r="4.7"/><circle cx="199.5" cy="237.8" r="4.7"/><circle cx="207.1" cy="239.1" r="4.7"/><circle cx="207.1" cy="239.1" r="4.7"/><circle cx="207.1" cy="239.1" r="4.7"/><circle cx="211.3" cy="239.9" r="4.7"/><circle cx="213.4" cy="244.8" r="4.7"/><circle cx="213.4" cy="244.8" r="4.7"/><circle cx="219.5" cy="235.7" r="4.7"/><circle cx="219.5" cy="235.7" r="4.7"/><circle cx="219.5" cy="235.7" r="4.7"/><circle cx="215.3" cy="243.7" r="4.7"/><circle cx="222.1" cy="240.7" r="4.7"/><circle cx="222.1" cy="240.7" r="4.7"/><circle cx="228.1" cy="242.9" r="4.7"/><circle cx="228.1" cy="242.9" r="4.7"/><circle cx="228.1" cy="242.9" r="4.7"/><circle cx="225.2" cy="236.4" r="4.7"/><circle cx="225.2" cy="243.3" r="4.7"/><circle cx="225.2" cy="243.3" r="4.7"/><circle cx="236.4" cy="235.5" r="4.7"/><circle cx="111.3" cy="249.5" r="4.7"/><circle cx="121.6" cy="253.1" r="4.7"/><circle cx="131.8" cy="247.0" r="4.7"/><circle cx="126.8" cy="245.1" r="4.7"/><circle cx="139.7" cy="252.1" r="4.7"/><circle cx="139.7" cy="252.1" r="4.7"/><circle cx="139.7" cy="252.1" r="4.7"/><circle cx="136.8" cy="247.7" r="4.7"/><circle cx="142.0" cy="250.2" r="4.7"/><circle cx="142.0" cy="250.2" r="4.7"/><circle cx="151.1" cy="252.6" r="4.7"/><circle cx="152.2" cy="246.3" r="4.7"/><circle cx="159.5" cy="251.3" r="4.7"/><circle cx="159.5" cy="251.3" r="4.7"/><circle cx="159.5" cy="251.3" r="4.7"/><circle cx="164.1" cy="248.8" r="4.7"/><circle cx="174.4" cy="249.6" r="4.7"/><circle cx="174.4" cy="249.6" r="4.7"/><circle cx="174.4" cy="249.6" r="4.7"/><circle cx="171.5" cy="247.0" r="4.7"/><circle cx="183.2" cy="251.4" r="4.7"/><circle cx="187.1" cy="254.0" r="4.7"/><circle cx="187.1" cy="254.0" r="4.7"/><circle cx="187.1" cy="254.0" r="4.7"/><circle cx="190.4" cy="252.9" r="4.7"/><circle cx="188.5" cy="245.8" r="4.7"/><circle cx="188.5" cy="245.8" r="4.7"/><circle cx="199.4" cy="250.5" r="4.7"/><circle cx="209.9" cy="245.3" r="4.7"/><circle cx="209.9" cy="245.3" r="4.7"/><circle cx="209.9" cy="245.3" r="4.7"/><circle cx="213.1" cy="245.6" r="4.7"/><circle cx="216.7" cy="248.4" r="4.7"/><circle cx="216.7" cy="248.4" r="4.7"/><circle cx="216.7" cy="248.4" r="4.7"/><circle cx="222.9" cy="246.4" r="4.7"/><circle cx="220.2" cy="252.2" r="4.7"/><circle cx="220.2" cy="252.2" r="4.7"/><circle cx="233.4" cy="251.9" r="4.7"/><circle cx="109.9" cy="264.5" r="4.7"/><circle cx="107.2" cy="260.3" r="4.7"/><circle cx="117.9" cy="262.3" r="4.7"/><circle cx="117.9" cy="262.3" r="4.7"/><circle cx="117.9" cy="262.3" r="4.7"/><circle cx="121.4" cy="260.2" r="4.7"/><circle cx="128.8" cy="263.5" r="4.7"/><circle cx="128.8" cy="263.5" r="4.7"/><circle cx="128.8" cy="263.5" r="4.7"/><circle cx="133.5" cy="264.7" r="4.7"/><circle cx="140.4" cy="260.0" r="4.7"/><circle cx="140.4" cy="260.0" r="4.7"/><circle cx="140.4" cy="260.0" r="4.7"/><circle cx="144.7" cy="260.2" r="4.7"/><circle cx="143.0" cy="260.6" r="4.7"/><circle cx="143.0" cy="260.6" r="4.7"/><circle cx="149.9" cy="261.9" r="4.7"/><circle cx="149.9" cy="261.9" r="4.7"/><circle cx="149.9" cy="261.9" r="4.7"/><circle cx="145.7" cy="260.4" r="4.7"/><circle cx="154.6" cy="264.2" r="4.7"/><circle cx="154.6" cy="264.2" r="4.7"/><circle cx="157.7" cy="259.7" r="4.7"/><circle cx="157.7" cy="259.7" r="4.7"/><circle cx="157.7" cy="259.7" r="4.7"/><circle cx="156.3" cy="259.3" r="4.7"/><circle cx="174.0" cy="259.8" r="4.7"/><circle cx="166.9" cy="261.2" r="4.7"/><circle cx="184.3" cy="256.3" r="4.7"/><circle cx="185.2" cy="256.9" r="4.7"/><circle cx="185.2" cy="256.9" r="4.7"/><circle cx="185.2" cy="256.9" r="4.7"/><circle cx="187.3" cy="261.9" r="4.7"/><circle cx="188.6" cy="261.2" r="4.7"/><circle cx="188.6" cy="261.2" r="4.7"/><circle cx="196.0" cy="262.3" r="4.7"/><circle cx="196.0" cy="262.3" r="4.7"/><circle cx="196.0" cy="262.3" r="4.7"/><circle cx="196.2" cy="260.1" r="4.7"/><circle cx="197.0" cy="260.3" r="4.7"/><circle cx="197.0" cy="260.3" r="4.7"/><circle cx="209.4" cy="258.8" r="4.7"/><circle cx="209.4" cy="258.8" r="4.7"/><circle cx="209.4" cy="258.8" r="4.7"/><circle cx="209.1" cy="260.3" r="4.7"/><circle cx="207.0" cy="261.3" r="4.7"/><circle cx="207.0" cy="261.3" r="4.7"/><circle cx="221.4" cy="260.3" r="4.7"/><circle cx="221.4" cy="260.3" r="4.7"/><circle cx="221.4" cy="260.3" r="4.7"/><circle cx="223.5" cy="261.1" r="4.7"/><circle cx="227.3" cy="262.4" r="4.7"/><circle cx="227.3" cy="262.4" r="4.7"/><circle cx="227.3" cy="262.4" r="4.7"/><circle cx="233.1" cy="264.0" r="4.7"/><circle cx="228.1" cy="264.2" r="4.7"/><circle cx="228.1" cy="264.2" r="4.7"/><circle cx="237.2" cy="265.0" r="4.7"/><circle cx="252.3" cy="257.6" r="4.7"/><circle cx="253.3" cy="259.2" r="4.7"/><circle cx="112.9" cy="266.3" r="4.7"/><circle cx="111.9" cy="265.2" r="4.7"/><circle cx="117.0" cy="271.8" r="4.7"/><circle cx="134.7" cy="266.2" r="4.7"/><circle cx="134.7" cy="266.2" r="4.7"/><circle cx="134.7" cy="266.2" r="4.7"/><circle cx="130.1" cy="272.6" r="4.7"/><circle cx="141.9" cy="266.9" r="4.7"/><circle cx="141.9" cy="266.9" r="4.7"/><circle cx="141.9" cy="266.9" r="4.7"/><circle cx="135.7" cy="266.1" r="4.7"/><circle cx="140.5" cy="270.1" r="4.7"/><circle cx="140.5" cy="270.1" r="4.7"/><circle cx="150.7" cy="266.5" r="4.7"/><circle cx="150.7" cy="266.5" r="4.7"/><circle cx="150.7" cy="266.5" r="4.7"/><circle cx="146.8" cy="267.0" r="4.7"/><circle cx="164.9" cy="274.3" r="4.7"/><circle cx="164.9" cy="274.3" r="4.7"/><circle cx="164.9" cy="274.3" r="4.7"/><circle cx="156.0" cy="265.6" r="4.7"/><circle cx="169.6" cy="272.6" r="4.7"/><circle cx="169.6" cy="272.6" r="4.7"/><circle cx="169.6" cy="272.6" r="4.7"/><circle cx="168.3" cy="269.7" r="4.7"/><circle cx="179.3" cy="271.0" r="4.7"/><circle cx="179.3" cy="271.0" r="4.7"/><circle cx="179.3" cy="271.0" r="4.7"/><circle cx="175.1" cy="272.0" r="4.7"/><circle cx="186.8" cy="269.5" r="4.7"/><circle cx="186.8" cy="269.5" r="4.7"/><circle cx="186.8" cy="269.5" r="4.7"/><circle cx="192.4" cy="269.1" r="4.7"/><circle cx="186.7" cy="270.1" r="4.7"/><circle cx="186.7" cy="270.1" r="4.7"/><circle cx="195.2" cy="273.9" r="4.7"/><circle cx="195.2" cy="273.9" r="4.7"/><circle cx="195.2" cy="273.9" r="4.7"/><circle cx="203.0" cy="272.0" r="4.7"/><circle cx="211.3" cy="269.0" r="4.7"/><circle cx="211.3" cy="269.0" r="4.7"/><circle cx="211.3" cy="269.0" r="4.7"/><circle cx="211.0" cy="270.0" r="4.7"/><circle cx="223.0" cy="267.6" r="4.7"/><circle cx="223.0" cy="267.6" r="4.7"/><circle cx="223.0" cy="267.6" r="4.7"/><circle cx="224.1" cy="272.4" r="4.7"/><circle cx="233.1" cy="269.1" r="4.7"/><circle cx="233.1" cy="269.1" r="4.7"/><circle cx="233.1" cy="269.1" r="4.7"/><circle cx="234.0" cy="273.8" r="4.7"/><circle cx="242.7" cy="272.7" r="4.7"/><circle cx="242.2" cy="265.7" r="4.7"/><circle cx="248.4" cy="269.7" r="4.7"/><circle cx="248.4" cy="269.7" r="4.7"/><circle cx="248.4" cy="269.7" r="4.7"/><circle cx="245.1" cy="268.6" r="4.7"/><circle cx="107.3" cy="278.8" r="4.7"/><circle cx="118.4" cy="277.6" r="4.7"/><circle cx="120.3" cy="276.6" r="4.7"/><circle cx="135.0" cy="277.6" r="4.7"/><circle cx="135.0" cy="277.6" r="4.7"/><circle cx="135.0" cy="277.6" r="4.7"/><circle cx="132.0" cy="278.0" r="4.7"/><circle cx="135.2" cy="277.5" r="4.7"/><circle cx="147.6" cy="276.6" r="4.7"/><circle cx="147.6" cy="276.6" r="4.7"/><circle cx="147.6" cy="276.6" r="4.7"/><circle cx="145.5" cy="275.8" r="4.7"/><circle cx="146.0" cy="276.0" r="4.7"/><circle cx="146.0" cy="276.0" r="4.7"/><circle cx="164.1" cy="277.2" r="4.7"/><circle cx="164.1" cy="277.2" r="4.7"/><circle cx="164.1" cy="277.2" r="4.7"/><circle cx="160.1" cy="278.9" r="4.7"/><circle cx="175.0" cy="277.6" r="4.7"/><circle cx="175.0" cy="277.6" r="4.7"/><circle cx="175.0" cy="277.6" r="4.7"/><circle cx="173.1" cy="275.3" r="4.7"/><circle cx="182.6" cy="275.2" r="4.7"/><circle cx="182.6" cy="275.2" r="4.7"/><circle cx="182.6" cy="275.2" r="4.7"/><circle cx="184.3" cy="275.6" r="4.7"/><circle cx="176.7" cy="277.0" r="4.7"/><circle cx="176.7" cy="277.0" r="4.7"/><circle cx="191.1" cy="275.2" r="4.7"/><circle cx="199.2" cy="277.1" r="4.7"/><circle cx="199.2" cy="277.1" r="4.7"/><circle cx="199.2" cy="277.1" r="4.7"/><circle cx="201.0" cy="276.5" r="4.7"/><circle cx="201.6" cy="277.2" r="4.7"/><circle cx="201.6" cy="277.2" r="4.7"/><circle cx="207.8" cy="277.9" r="4.7"/><circle cx="205.1" cy="276.0" r="4.7"/><circle cx="215.4" cy="275.6" r="4.7"/><circle cx="234.0" cy="278.0" r="4.7"/></g>
<path d="M31.099999999999998 28.9H327.0" stroke="#6e6e6e" stroke-width="1.4" fill="none"/>
<path d="M35.4 28.9V318.5M326.4 28.9V318.5M31.099999999999998 318.5H327.0" stroke="#2e2e2e" stroke-width="1.4" fill="none"/>
<path d="M31.099999999999998 70.27H35.4M31.099999999999998 111.64H35.4M31.099999999999998 153.01H35.4M31.099999999999998 194.39H35.4M31.099999999999998 235.76H35.4M31.099999999999998 277.13H35.4M56.19 318.5V322.3M97.76 318.5V322.3M139.33 318.5V322.3M180.90 318.5V322.3M222.47 318.5V322.3M264.04 318.5V322.3M305.61 318.5V322.3" stroke="#2e2e2e" stroke-width="1.3" fill="none"/>
<text x="27.0" y="116.7" font-size="14.6" text-anchor="end" font-weight="normal" fill="#2b2b2b" textLength="27.3" lengthAdjust="spacingAndGlyphs" >32.8</text>
<text x="27.0" y="199.5" font-size="14.6" text-anchor="end" font-weight="normal" fill="#2b2b2b" textLength="27.3" lengthAdjust="spacingAndGlyphs" >32.4</text>
<text x="27.0" y="282.2" font-size="14.6" text-anchor="end" font-weight="normal" fill="#2b2b2b" textLength="27.3" lengthAdjust="spacingAndGlyphs" >32.0</text>
<text x="74.6" y="336.1" font-size="14.3" text-anchor="start" font-weight="normal" fill="#2b2b2b" textLength="40.4" lengthAdjust="spacingAndGlyphs" >-104.2</text>
<text x="157.7" y="336.1" font-size="14.3" text-anchor="start" font-weight="normal" fill="#2b2b2b" textLength="40.4" lengthAdjust="spacingAndGlyphs" >-103.8</text>
<text x="240.8" y="336.1" font-size="14.3" text-anchor="start" font-weight="normal" fill="#2b2b2b" textLength="40.4" lengthAdjust="spacingAndGlyphs" >-103.4</text>
<text y="18.6" font-size="23.6" fill="#2b2b2b"><tspan x="81.2" textLength="69.0" lengthAdjust="spacingAndGlyphs">Plume</tspan> <tspan x="158.9" textLength="119.9" lengthAdjust="spacingAndGlyphs">Detections</tspan></text>
<text x="291.0" y="56" font-size="23" text-anchor="start" font-weight="bold" fill="#231f20" >a</text>
<rect x="415.10" y="80.31" width="239.20" height="196.51" fill="#e8e9ba"/>
<rect x="519.10" y="90.66" width="10.40" height="10.34" fill="#ea864a"/>
<rect x="456.70" y="101.00" width="10.40" height="10.34" fill="#780a31"/>
<rect x="467.10" y="101.00" width="10.40" height="10.34" fill="#f0e8a2"/>
<rect x="477.50" y="101.00" width="10.40" height="10.34" fill="#f5dc85"/>
<rect x="487.90" y="101.00" width="10.40" height="10.34" fill="#f0e8a2"/>
<rect x="519.10" y="101.00" width="10.40" height="10.34" fill="#ee9f52"/>
<rect x="539.90" y="101.00" width="10.40" height="10.34" fill="#ea864a"/>
<rect x="415.10" y="111.34" width="10.40" height="10.34" fill="#d91f3e"/>
<rect x="435.90" y="111.34" width="10.40" height="10.34" fill="#780a31"/>
<rect x="467.10" y="111.34" width="10.40" height="10.34" fill="#ea864a"/>
<rect x="498.30" y="111.34" width="10.40" height="10.34" fill="#d91f3e"/>
<rect x="560.70" y="111.34" width="10.40" height="10.34" fill="#f2bf6a"/>
<rect x="581.50" y="111.34" width="10.40" height="10.34" fill="#f2bf6a"/>
<rect x="456.70" y="121.69" width="10.40" height="10.34" fill="#f5dc85"/>
<rect x="477.50" y="121.69" width="10.40" height="10.34" fill="#e63a41"/>
<rect x="539.90" y="121.69" width="10.40" height="10.34" fill="#e86447"/>
<rect x="467.10" y="132.03" width="10.40" height="10.34" fill="#f5dc85"/>
<rect x="435.90" y="142.37" width="10.40" height="10.34" fill="#e63a41"/>
<rect x="446.30" y="142.37" width="10.40" height="10.34" fill="#780a31"/>
<rect x="456.70" y="142.37" width="10.40" height="10.34" fill="#f0e8a2"/>
<rect x="467.10" y="142.37" width="10.40" height="10.34" fill="#f0e8a2"/>
<rect x="415.10" y="152.71" width="10.40" height="10.34" fill="#d91f3e"/>
<rect x="425.50" y="152.71" width="10.40" height="10.34" fill="#d91f3e"/>
<rect x="446.30" y="152.71" width="10.40" height="10.34" fill="#ea864a"/>
<rect x="467.10" y="152.71" width="10.40" height="10.34" fill="#ae1836"/>
<rect x="477.50" y="152.71" width="10.40" height="10.34" fill="#d91f3e"/>
<rect x="633.50" y="152.71" width="10.40" height="10.34" fill="#f5dc85"/>
<rect x="643.90" y="152.71" width="10.40" height="10.34" fill="#f2bf6a"/>
<rect x="446.30" y="163.06" width="10.40" height="10.34" fill="#ee9f52"/>
<rect x="519.10" y="163.06" width="10.40" height="10.34" fill="#f5dc85"/>
<rect x="623.10" y="163.06" width="10.40" height="10.34" fill="#f5dc85"/>
<rect x="446.30" y="173.40" width="10.40" height="10.34" fill="#f0e8a2"/>
<rect x="571.10" y="173.40" width="10.40" height="10.34" fill="#f0e8a2"/>
<rect x="612.70" y="173.40" width="10.40" height="10.34" fill="#f0e8a2"/>
<rect x="643.90" y="173.40" width="10.40" height="10.34" fill="#f5dc85"/>
<rect x="425.50" y="183.74" width="10.40" height="10.34" fill="#780a31"/>
<rect x="446.30" y="183.74" width="10.40" height="10.34" fill="#f5dc85"/>
<rect x="550.30" y="183.74" width="10.40" height="10.34" fill="#ae1836"/>
<rect x="571.10" y="183.74" width="10.40" height="10.34" fill="#780a31"/>
<rect x="581.50" y="183.74" width="10.40" height="10.34" fill="#f2bf6a"/>
<rect x="591.90" y="183.74" width="10.40" height="10.34" fill="#780a31"/>
<rect x="602.30" y="183.74" width="10.40" height="10.34" fill="#f0e8a2"/>
<rect x="633.50" y="183.74" width="10.40" height="10.34" fill="#780a31"/>
<rect x="643.90" y="183.74" width="10.40" height="10.34" fill="#ee9f52"/>
<rect x="415.10" y="194.09" width="10.40" height="10.34" fill="#ea864a"/>
<rect x="560.70" y="194.09" width="10.40" height="10.34" fill="#ee9f52"/>
<rect x="602.30" y="194.09" width="10.40" height="10.34" fill="#f0e8a2"/>
<rect x="425.50" y="204.43" width="10.40" height="10.34" fill="#f5dc85"/>
<rect x="435.90" y="204.43" width="10.40" height="10.34" fill="#f0e8a2"/>
<rect x="456.70" y="204.43" width="10.40" height="10.34" fill="#f5dc85"/>
<rect x="477.50" y="204.43" width="10.40" height="10.34" fill="#f2bf6a"/>
<rect x="498.30" y="204.43" width="10.40" height="10.34" fill="#f5dc85"/>
<rect x="529.50" y="204.43" width="10.40" height="10.34" fill="#ae1836"/>
<rect x="539.90" y="204.43" width="10.40" height="10.34" fill="#f5dc85"/>
<rect x="550.30" y="204.43" width="10.40" height="10.34" fill="#f0e8a2"/>
<rect x="560.70" y="204.43" width="10.40" height="10.34" fill="#e86447"/>
<rect x="571.10" y="204.43" width="10.40" height="10.34" fill="#f0e8a2"/>
<rect x="633.50" y="204.43" width="10.40" height="10.34" fill="#f0e8a2"/>
<rect x="643.90" y="204.43" width="10.40" height="10.34" fill="#f0e8a2"/>
<rect x="446.30" y="214.77" width="10.40" height="10.34" fill="#f5dc85"/>
<rect x="456.70" y="214.77" width="10.40" height="10.34" fill="#f5dc85"/>
<rect x="477.50" y="214.77" width="10.40" height="10.34" fill="#ea864a"/>
<rect x="487.90" y="214.77" width="10.40" height="10.34" fill="#f5dc85"/>
<rect x="498.30" y="214.77" width="10.40" height="10.34" fill="#f5dc85"/>
<rect x="539.90" y="214.77" width="10.40" height="10.34" fill="#f2bf6a"/>
<rect x="550.30" y="214.77" width="10.40" height="10.34" fill="#f2bf6a"/>
<rect x="571.10" y="214.77" width="10.40" height="10.34" fill="#f2bf6a"/>
<rect x="602.30" y="214.77" width="10.40" height="10.34" fill="#f5dc85"/>
<rect x="643.90" y="214.77" width="10.40" height="10.34" fill="#780a31"/>
<rect x="467.10" y="225.11" width="10.40" height="10.34" fill="#ea864a"/>
<rect x="487.90" y="225.11" width="10.40" height="10.34" fill="#f2bf6a"/>
<rect x="498.30" y="225.11" width="10.40" height="10.34" fill="#f5dc85"/>
<rect x="519.10" y="225.11" width="10.40" height="10.34" fill="#e86447"/>
<rect x="529.50" y="225.11" width="10.40" height="10.34" fill="#e63a41"/>
<rect x="539.90" y="225.11" width="10.40" height="10.34" fill="#ae1836"/>
<rect x="550.30" y="225.11" width="10.40" height="10.34" fill="#e63a41"/>
<rect x="560.70" y="225.11" width="10.40" height="10.34" fill="#780a31"/>
<rect x="571.10" y="225.11" width="10.40" height="10.34" fill="#780a31"/>
<rect x="581.50" y="225.11" width="10.40" height="10.34" fill="#f2bf6a"/>
<rect x="591.90" y="225.11" width="10.40" height="10.34" fill="#f5dc85"/>
<rect x="602.30" y="225.11" width="10.40" height="10.34" fill="#f0e8a2"/>
<rect x="643.90" y="225.11" width="10.40" height="10.34" fill="#780a31"/>
<rect x="467.10" y="235.46" width="10.40" height="10.34" fill="#f0e8a2"/>
<rect x="477.50" y="235.46" width="10.40" height="10.34" fill="#780a31"/>
<rect x="487.90" y="235.46" width="10.40" height="10.34" fill="#780a31"/>
<rect x="550.30" y="235.46" width="10.40" height="10.34" fill="#d91f3e"/>
<rect x="560.70" y="235.46" width="10.40" height="10.34" fill="#780a31"/>
<rect x="571.10" y="235.46" width="10.40" height="10.34" fill="#ea864a"/>
<rect x="581.50" y="235.46" width="10.40" height="10.34" fill="#ea864a"/>
<rect x="612.70" y="235.46" width="10.40" height="10.34" fill="#f0e8a2"/>
<rect x="623.10" y="235.46" width="10.40" height="10.34" fill="#f5dc85"/>
<rect x="415.10" y="245.80" width="10.40" height="10.34" fill="#f0e8a2"/>
<rect x="456.70" y="245.80" width="10.40" height="10.34" fill="#ae1836"/>
<rect x="477.50" y="245.80" width="10.40" height="10.34" fill="#f5dc85"/>
<rect x="487.90" y="245.80" width="10.40" height="10.34" fill="#e86447"/>
<rect x="498.30" y="245.80" width="10.40" height="10.34" fill="#f0e8a2"/>
<rect x="519.10" y="245.80" width="10.40" height="10.34" fill="#f2bf6a"/>
<rect x="529.50" y="245.80" width="10.40" height="10.34" fill="#f5dc85"/>
<rect x="539.90" y="245.80" width="10.40" height="10.34" fill="#f0e8a2"/>
<rect x="550.30" y="245.80" width="10.40" height="10.34" fill="#e63a41"/>
<rect x="560.70" y="245.80" width="10.40" height="10.34" fill="#d91f3e"/>
<rect x="571.10" y="245.80" width="10.40" height="10.34" fill="#f5dc85"/>
<rect x="581.50" y="245.80" width="10.40" height="10.34" fill="#f5dc85"/>
<rect x="643.90" y="245.80" width="10.40" height="10.34" fill="#ea864a"/>
<rect x="435.90" y="256.14" width="10.40" height="10.34" fill="#780a31"/>
<rect x="456.70" y="256.14" width="10.40" height="10.34" fill="#f2bf6a"/>
<rect x="477.50" y="256.14" width="10.40" height="10.34" fill="#f5dc85"/>
<rect x="487.90" y="256.14" width="10.40" height="10.34" fill="#ee9f52"/>
<rect x="498.30" y="256.14" width="10.40" height="10.34" fill="#780a31"/>
<rect x="529.50" y="256.14" width="10.40" height="10.34" fill="#f2bf6a"/>
<rect x="539.90" y="256.14" width="10.40" height="10.34" fill="#ea864a"/>
<rect x="550.30" y="256.14" width="10.40" height="10.34" fill="#f2bf6a"/>
<rect x="560.70" y="256.14" width="10.40" height="10.34" fill="#f5dc85"/>
<rect x="571.10" y="256.14" width="10.40" height="10.34" fill="#e63a41"/>
<rect x="581.50" y="256.14" width="10.40" height="10.34" fill="#d91f3e"/>
<rect x="467.10" y="266.49" width="10.40" height="10.34" fill="#f2bf6a"/>
<rect x="487.90" y="266.49" width="10.40" height="10.34" fill="#f5dc85"/>
<rect x="498.30" y="266.49" width="10.40" height="10.34" fill="#f5dc85"/>
<rect x="519.10" y="266.49" width="10.40" height="10.34" fill="#780a31"/>
<rect x="560.70" y="266.49" width="10.40" height="10.34" fill="#f2bf6a"/>
<rect x="571.10" y="266.49" width="10.40" height="10.34" fill="#e86447"/>
<rect x="591.90" y="266.49" width="10.40" height="10.34" fill="#ea864a"/>
<rect x="623.10" y="266.49" width="10.40" height="10.34" fill="#f0e8a2"/>
<path d="M394.91 28.9V318.5M405.32 28.9V318.5M415.74 28.9V318.5M426.15 28.9V318.5M436.56 28.9V318.5M446.97 28.9V318.5M457.38 28.9V318.5M467.80 28.9V318.5M478.21 28.9V318.5M488.62 28.9V318.5M499.03 28.9V318.5M509.44 28.9V318.5M519.86 28.9V318.5M530.27 28.9V318.5M540.68 28.9V318.5M551.09 28.9V318.5M561.50 28.9V318.5M571.92 28.9V318.5M582.33 28.9V318.5M592.74 28.9V318.5M603.15 28.9V318.5M613.56 28.9V318.5M623.98 28.9V318.5M634.39 28.9V318.5M644.80 28.9V318.5M655.21 28.9V318.5M665.62 28.9V318.5" stroke="#6f787b" stroke-opacity="0.5" stroke-width="1.5" fill="none"/>
<path d="M384.5 39.39H675.7M384.5 49.72H675.7M384.5 60.06H675.7M384.5 70.40H675.7M384.5 80.74H675.7M384.5 91.08H675.7M384.5 101.41H675.7M384.5 111.75H675.7M384.5 122.09H675.7M384.5 132.43H675.7M384.5 142.76H675.7M384.5 153.10H675.7M384.5 163.44H675.7M384.5 173.77H675.7M384.5 184.11H675.7M384.5 194.45H675.7M384.5 204.79H675.7M384.5 215.12H675.7M384.5 225.46H675.7M384.5 235.80H675.7M384.5 246.14H675.7M384.5 256.48H675.7M384.5 266.81H675.7M384.5 277.15H675.7M384.5 287.49H675.7M384.5 297.83H675.7M384.5 308.16H675.7" stroke="#6f787b" stroke-opacity="0.55" stroke-width="1.4" fill="none"/>
<rect x="427" y="282.3" width="215.5" height="32.5" fill="#ffffff" stroke="#9aa0a0" stroke-width="1"/>
<rect x="508.60" y="286.7" width="11.2" height="13.4" fill="#e8e9ba"/>
<rect x="519.68" y="286.7" width="11.2" height="13.4" fill="#f0e8a2"/>
<rect x="530.76" y="286.7" width="11.2" height="13.4" fill="#f5dc85"/>
<rect x="541.84" y="286.7" width="11.2" height="13.4" fill="#f2bf6a"/>
<rect x="552.92" y="286.7" width="11.2" height="13.4" fill="#ee9f52"/>
<rect x="564.00" y="286.7" width="11.2" height="13.4" fill="#ea864a"/>
<rect x="575.08" y="286.7" width="11.2" height="13.4" fill="#e86447"/>
<rect x="586.16" y="286.7" width="11.2" height="13.4" fill="#e63a41"/>
<rect x="597.24" y="286.7" width="11.2" height="13.4" fill="#d91f3e"/>
<rect x="608.32" y="286.7" width="11.2" height="13.4" fill="#ae1836"/>
<rect x="619.40" y="286.7" width="11.2" height="13.4" fill="#780a31"/>
<text x="469.5" y="296.3" font-size="12" text-anchor="middle" font-weight="normal" fill="#2b2b2b" textLength="44" lengthAdjust="spacingAndGlyphs" >Emission</text>
<text x="470.3" y="309.8" font-size="12" text-anchor="middle" font-weight="normal" fill="#2b2b2b" textLength="62" lengthAdjust="spacingAndGlyphs" >Rate (kg h<tspan font-size="7.5" dy="-4.5">-1</tspan><tspan dy="4.5">)</tspan></text>
<text x="509.5" y="312.3" font-size="12.4" text-anchor="start" font-weight="normal" fill="#2b2b2b" textLength="21" lengthAdjust="spacingAndGlyphs" >100</text>
<text x="576" y="312.3" font-size="12.4" text-anchor="middle" font-weight="normal" fill="#2b2b2b" textLength="21" lengthAdjust="spacingAndGlyphs" >500</text>
<text x="641.3" y="312.3" font-size="12.4" text-anchor="end" font-weight="normal" fill="#2b2b2b" textLength="21" lengthAdjust="spacingAndGlyphs" >900</text>
<path d="M380.2 28.9H676.3000000000001" stroke="#6e6e6e" stroke-width="1.4" fill="none"/>
<path d="M384.5 28.9V318.5M675.7 28.9V318.5M380.2 318.5H676.3000000000001" stroke="#2e2e2e" stroke-width="1.4" fill="none"/>
<path d="M380.2 70.27H384.5M380.2 111.64H384.5M380.2 153.01H384.5M380.2 194.39H384.5M380.2 235.76H384.5M380.2 277.13H384.5M405.30 318.5V322.3M446.90 318.5V322.3M488.50 318.5V322.3M530.10 318.5V322.3M571.70 318.5V322.3M613.30 318.5V322.3M654.90 318.5V322.3" stroke="#2e2e2e" stroke-width="1.3" fill="none"/>
<text x="376.1" y="116.7" font-size="14.6" text-anchor="end" font-weight="normal" fill="#2b2b2b" textLength="27.3" lengthAdjust="spacingAndGlyphs" >32.8</text>
<text x="376.1" y="199.5" font-size="14.6" text-anchor="end" font-weight="normal" fill="#2b2b2b" textLength="27.3" lengthAdjust="spacingAndGlyphs" >32.4</text>
<text x="376.1" y="282.2" font-size="14.6" text-anchor="end" font-weight="normal" fill="#2b2b2b" textLength="27.3" lengthAdjust="spacingAndGlyphs" >32.0</text>
<text x="426.7" y="336.1" font-size="14.3" text-anchor="start" font-weight="normal" fill="#2b2b2b" textLength="40.4" lengthAdjust="spacingAndGlyphs" >-104.2</text>
<text x="509.9" y="336.1" font-size="14.3" text-anchor="start" font-weight="normal" fill="#2b2b2b" textLength="40.4" lengthAdjust="spacingAndGlyphs" >-103.8</text>
<text x="593.1" y="336.1" font-size="14.3" text-anchor="start" font-weight="normal" fill="#2b2b2b" textLength="40.4" lengthAdjust="spacingAndGlyphs" >-103.4</text>
<text x="529.3" y="18.6" font-size="23.6" text-anchor="middle" font-weight="normal" fill="#2b2b2b" textLength="182" lengthAdjust="spacingAndGlyphs" >Super-Emissions</text>
<text x="640.2" y="55.6" font-size="24" text-anchor="start" font-weight="bold" fill="#231f20" >b</text>
<path d="M131.85 412.60L145.04 412.60L158.23 412.60L171.42 412.60L184.61 412.60L184.61 425.08L197.80 425.08L210.99 425.08L224.18 425.08L237.37 425.08L250.56 425.08L263.75 425.08L263.75 437.55L263.75 450.03L263.75 462.50L263.75 474.98L250.56 474.98L250.56 487.45L250.56 499.93L237.37 499.93L237.37 512.40L237.37 524.88L250.56 524.88L250.56 537.35L263.75 537.35L263.75 549.83L263.75 562.30L263.75 574.77L263.75 587.25L276.94 587.25L276.94 599.73L276.94 612.20L276.94 624.67L276.94 637.15L276.94 649.62L263.75 649.62L263.75 637.15L250.56 637.15L237.37 637.15L237.37 624.67L224.18 624.67L210.99 624.67L210.99 612.20L197.80 612.20L197.80 599.73L184.61 599.73L171.42 599.73L171.42 587.25L158.23 587.25L158.23 599.73L145.04 599.73L131.85 599.73L131.85 587.25L118.66 587.25L105.47 587.25L105.47 574.77L92.28 574.77L92.28 562.30L79.09 562.30L79.09 549.83L79.09 537.35L65.90 537.35L65.90 524.88L65.90 512.40L65.90 499.93L65.90 487.45L65.90 474.98L79.09 474.98L79.09 462.50L92.28 462.50L92.28 450.03L105.47 450.03L105.47 437.55L118.66 437.55L118.66 425.08L131.85 425.08Z" fill="#e7e9ba"/>
<rect x="171.42" y="437.55" width="13.39" height="12.67" fill="#f5dc85"/>
<rect x="158.23" y="462.50" width="13.39" height="12.67" fill="#ee9f52"/>
<rect x="184.61" y="462.50" width="13.39" height="12.67" fill="#f0e8a2"/>
<rect x="105.47" y="462.50" width="13.39" height="12.67" fill="#ece8ae"/>
<rect x="92.28" y="474.98" width="13.39" height="12.67" fill="#f2bf6a"/>
<rect x="105.47" y="474.98" width="13.39" height="12.67" fill="#f3e191"/>
<rect x="118.66" y="474.98" width="13.39" height="12.67" fill="#f0e8a2"/>
<rect x="131.85" y="474.98" width="13.39" height="12.67" fill="#ece8ae"/>
<rect x="79.09" y="487.45" width="13.39" height="12.67" fill="#f5dc85"/>
<rect x="92.28" y="487.45" width="13.39" height="12.67" fill="#f5dc85"/>
<rect x="105.47" y="487.45" width="13.39" height="12.67" fill="#f2e294"/>
<rect x="118.66" y="487.45" width="13.39" height="12.67" fill="#f4de8b"/>
<rect x="131.85" y="487.45" width="13.39" height="12.67" fill="#f0e8a2"/>
<rect x="145.04" y="487.45" width="13.39" height="12.67" fill="#f2bf6a"/>
<rect x="158.23" y="487.45" width="13.39" height="12.67" fill="#f1e69c"/>
<rect x="171.42" y="487.45" width="13.39" height="12.67" fill="#f5dc85"/>
<rect x="184.61" y="487.45" width="13.39" height="12.67" fill="#f4de8b"/>
<rect x="197.80" y="487.45" width="13.39" height="12.67" fill="#ee9f52"/>
<rect x="210.99" y="487.45" width="13.39" height="12.67" fill="#f0e8a2"/>
<rect x="92.28" y="499.93" width="13.39" height="12.67" fill="#f0e8a2"/>
<rect x="105.47" y="499.93" width="13.39" height="12.67" fill="#780a31"/>
<rect x="118.66" y="499.93" width="13.39" height="12.67" fill="#f4ce78"/>
<rect x="131.85" y="499.93" width="13.39" height="12.67" fill="#f4ce78"/>
<rect x="145.04" y="499.93" width="13.39" height="12.67" fill="#e86447"/>
<rect x="158.23" y="499.93" width="13.39" height="12.67" fill="#f5dc85"/>
<rect x="171.42" y="499.93" width="13.39" height="12.67" fill="#f0e8a2"/>
<rect x="184.61" y="499.93" width="13.39" height="12.67" fill="#f5dc85"/>
<rect x="197.80" y="499.93" width="13.39" height="12.67" fill="#e97548"/>
<rect x="210.99" y="499.93" width="13.39" height="12.67" fill="#eee8a7"/>
<rect x="92.28" y="512.40" width="13.39" height="12.67" fill="#d91f3e"/>
<rect x="105.47" y="512.40" width="13.39" height="12.67" fill="#f5dc85"/>
<rect x="118.66" y="512.40" width="13.39" height="12.67" fill="#8e1033"/>
<rect x="131.85" y="512.40" width="13.39" height="12.67" fill="#ece8ae"/>
<rect x="145.04" y="512.40" width="13.39" height="12.67" fill="#f5dc85"/>
<rect x="158.23" y="512.40" width="13.39" height="12.67" fill="#f1b563"/>
<rect x="171.42" y="512.40" width="13.39" height="12.67" fill="#f4de8b"/>
<rect x="184.61" y="512.40" width="13.39" height="12.67" fill="#f1b563"/>
<rect x="197.80" y="512.40" width="13.39" height="12.67" fill="#f5dc85"/>
<rect x="210.99" y="512.40" width="13.39" height="12.67" fill="#eee8a7"/>
<rect x="105.47" y="524.88" width="13.39" height="12.67" fill="#f0af5e"/>
<rect x="118.66" y="524.88" width="13.39" height="12.67" fill="#f4ce78"/>
<rect x="131.85" y="524.88" width="13.39" height="12.67" fill="#f5dc85"/>
<rect x="145.04" y="524.88" width="13.39" height="12.67" fill="#f0e8a2"/>
<rect x="158.23" y="524.88" width="13.39" height="12.67" fill="#f0e8a2"/>
<rect x="171.42" y="524.88" width="13.39" height="12.67" fill="#f3c872"/>
<rect x="184.61" y="524.88" width="13.39" height="12.67" fill="#f2bf6a"/>
<rect x="197.80" y="524.88" width="13.39" height="12.67" fill="#f5dc85"/>
<rect x="210.99" y="524.88" width="13.39" height="12.67" fill="#f0e8a2"/>
<rect x="105.47" y="537.35" width="13.39" height="12.67" fill="#f0e8a2"/>
<rect x="118.66" y="537.35" width="13.39" height="12.67" fill="#ae1836"/>
<rect x="131.85" y="537.35" width="13.39" height="12.67" fill="#ee9f52"/>
<rect x="145.04" y="537.35" width="13.39" height="12.67" fill="#f0e8a2"/>
<rect x="158.23" y="537.35" width="13.39" height="12.67" fill="#f1e69c"/>
<rect x="171.42" y="537.35" width="13.39" height="12.67" fill="#f5dc85"/>
<rect x="184.61" y="537.35" width="13.39" height="12.67" fill="#f5dc85"/>
<rect x="197.80" y="537.35" width="13.39" height="12.67" fill="#e97548"/>
<rect x="210.99" y="537.35" width="13.39" height="12.67" fill="#f0e8a2"/>
<rect x="105.47" y="549.83" width="13.39" height="12.67" fill="#e97548"/>
<rect x="118.66" y="549.83" width="13.39" height="12.67" fill="#f0e8a2"/>
<rect x="131.85" y="549.83" width="13.39" height="12.67" fill="#ea864a"/>
<rect x="145.04" y="549.83" width="13.39" height="12.67" fill="#f5dc85"/>
<rect x="184.61" y="549.83" width="13.39" height="12.67" fill="#f4e08e"/>
<rect x="197.80" y="549.83" width="13.39" height="12.67" fill="#f4e08e"/>
<rect x="210.99" y="549.83" width="13.39" height="12.67" fill="#f0e8a2"/>
<rect x="224.18" y="549.83" width="13.39" height="12.67" fill="#f4ce78"/>
<rect x="131.85" y="562.30" width="13.39" height="12.67" fill="#e63a41"/>
<rect x="145.04" y="562.30" width="13.39" height="12.67" fill="#ece8ae"/>
<rect x="197.80" y="562.30" width="13.39" height="12.67" fill="#f0e8a2"/>
<rect x="224.18" y="562.30" width="13.39" height="12.67" fill="#f2e499"/>
<rect x="224.18" y="574.77" width="13.39" height="12.67" fill="#f0e8a2"/>
<rect x="237.37" y="574.77" width="13.39" height="12.67" fill="#f2e294"/>
<rect x="210.99" y="587.25" width="13.39" height="12.67" fill="#f5dc85"/>
<rect x="224.18" y="587.25" width="13.39" height="12.67" fill="#ee9f52"/>
<rect x="237.37" y="587.25" width="13.39" height="12.67" fill="#f5dc85"/>
<rect x="250.56" y="587.25" width="13.39" height="12.67" fill="#f0af5e"/>
<rect x="263.75" y="587.25" width="13.39" height="12.67" fill="#ece8ae"/>
<rect x="197.80" y="599.73" width="13.39" height="12.67" fill="#c41c3a"/>
<rect x="250.56" y="599.73" width="13.39" height="12.67" fill="#f0e8a2"/>
<rect x="263.75" y="599.73" width="13.39" height="12.67" fill="#f2e294"/>
<path d="M138.45 412.60L151.64 412.60L164.83 412.60L178.02 412.60L184.61 418.84L191.21 425.08L204.40 425.08L217.59 425.08L230.78 425.08L243.97 425.08L257.15 425.08L263.75 431.31L263.75 443.79L263.75 456.26L263.75 468.74L257.15 474.98L250.56 481.21L250.56 493.69L243.97 499.93L237.37 506.16L237.37 518.64L243.97 524.88L250.56 531.11L257.15 537.35L263.75 543.59L263.75 556.06L263.75 568.54L263.75 581.01L270.35 587.25L276.94 593.49L276.94 605.96L276.94 618.44L276.94 630.91L276.94 643.39L270.35 649.62L263.75 643.39L257.15 637.15L243.97 637.15L237.37 630.91L230.78 624.67L217.59 624.67L210.99 618.44L204.40 612.20L197.80 605.96L191.21 599.73L178.02 599.73L171.42 593.49L164.83 587.25L158.23 593.49L151.64 599.73L138.45 599.73L131.85 593.49L125.26 587.25L112.06 587.25L105.47 581.01L98.88 574.77L92.28 568.54L85.69 562.30L79.09 556.06L79.09 543.59L72.50 537.35L65.90 531.11L65.90 518.64L65.90 506.16L65.90 493.69L65.90 481.21L72.50 474.98L79.09 468.74L85.69 462.50L92.28 456.26L98.88 450.03L105.47 443.79L112.06 437.55L118.66 431.31L125.26 425.08L131.85 418.84Z" fill="none" stroke="#6f7875" stroke-width="2.9" stroke-linejoin="round"/>
<rect x="98.3" y="473.4" width="50.8" height="45.2" fill="none" stroke="#111" stroke-width="0.8"/>
<defs><linearGradient id="cg" x1="0" x2="1" y1="0" y2="0">
<stop offset="0" stop-color="#e7e9ba"/><stop offset="0.1" stop-color="#f0e8a2"/><stop offset="0.2" stop-color="#f5dc85"/><stop offset="0.3" stop-color="#f2bf6a"/><stop offset="0.4" stop-color="#ee9f52"/><stop offset="0.5" stop-color="#ea864a"/><stop offset="0.6" stop-color="#e86447"/><stop offset="0.7" stop-color="#e63a41"/><stop offset="0.8" stop-color="#d91f3e"/><stop offset="0.9" stop-color="#ae1836"/><stop offset="1" stop-color="#6e0830"/></linearGradient></defs>
<rect x="36.1" y="630.2" width="161.4" height="11.4" fill="url(#cg)"/>
<path d="M35.6 630H198" stroke="#666" stroke-width="1"/>
<text x="63.3" y="656.4" font-size="11.8" text-anchor="middle" font-weight="normal" fill="#2b2b2b" >5</text>
<text x="91.4" y="656.4" font-size="11.8" text-anchor="middle" font-weight="normal" fill="#2b2b2b" >10</text>
<text x="119.5" y="656.4" font-size="11.8" text-anchor="middle" font-weight="normal" fill="#2b2b2b" >15</text>
<text x="147.6" y="656.4" font-size="11.8" text-anchor="middle" font-weight="normal" fill="#2b2b2b" >20</text>
<text x="175.7" y="656.4" font-size="11.8" text-anchor="middle" font-weight="normal" fill="#2b2b2b" >25</text>
<path d="M63.3 641.6v2.6M91.4 641.6v2.6M119.5 641.6v2.6M147.6 641.6v2.6M175.7 641.6v2.6" stroke="#555" stroke-width="0.9"/>
<text x="35.5" y="625" font-size="14.4" text-anchor="start" font-weight="normal" fill="#2b2b2b" textLength="167" lengthAdjust="spacingAndGlyphs" >Emission Flux (kg km<tspan font-size="8.5" dy="-5">-2</tspan><tspan dy="5"> h</tspan><tspan font-size="8.5" dy="-5">-1</tspan><tspan dy="5">)</tspan></text>
<path d="M30.5 393.9H326.4M325.9 393.9V668.5" stroke="#666" stroke-width="1.1" fill="none"/>
<path d="M31.0 393.9V671.8M27.3 668.5H326.5" stroke="#3a3a3a" stroke-width="1.25" fill="none"/>
<path d="M31.00 668.5v4M73.13 668.5v4M115.26 668.5v4M157.39 668.5v4M199.51 668.5v4M241.64 668.5v4M283.77 668.5v4M325.90 668.5v4M27.0 418.85H31.0M27.0 468.75H31.0M27.0 518.65H31.0M27.0 568.55H31.0M27.0 618.45H31.0" stroke="#2e2e2e" stroke-width="1.1" fill="none"/>
<text x="72.9" y="685.9" font-size="14.4" text-anchor="middle" font-weight="normal" fill="#2b2b2b" textLength="28.6" lengthAdjust="spacingAndGlyphs" >-105</text>
<text x="157.2" y="685.9" font-size="14.4" text-anchor="middle" font-weight="normal" fill="#2b2b2b" textLength="28.6" lengthAdjust="spacingAndGlyphs" >-103</text>
<text x="241.4" y="685.9" font-size="14.4" text-anchor="middle" font-weight="normal" fill="#2b2b2b" textLength="28.6" lengthAdjust="spacingAndGlyphs" >-101</text>
<text x="23.7" y="423.8" font-size="15" text-anchor="end" font-weight="normal" fill="#2b2b2b" textLength="15.2" lengthAdjust="spacingAndGlyphs" >34</text>
<text x="23.7" y="523.6" font-size="15" text-anchor="end" font-weight="normal" fill="#2b2b2b" textLength="15.2" lengthAdjust="spacingAndGlyphs" >32</text>
<text x="23.7" y="623.4" font-size="15" text-anchor="end" font-weight="normal" fill="#2b2b2b" textLength="15.2" lengthAdjust="spacingAndGlyphs" >30</text>
<text y="383.6" font-size="23.8" fill="#2b2b2b"><tspan x="61.3" textLength="56.0" lengthAdjust="spacingAndGlyphs">Total</tspan> <tspan x="124.9" textLength="102.3" lengthAdjust="spacingAndGlyphs">Emission</tspan> <tspan x="236.7" textLength="42.4" lengthAdjust="spacingAndGlyphs">Flux</tspan></text>
<text x="295.3" y="420.8" font-size="23" text-anchor="start" font-weight="bold" fill="#231f20" >c</text>
<rect x="429.3" y="439.9" width="72.8" height="166.9" fill="#45a5d5"/>
<rect x="574.9" y="521.3" width="73" height="85.5" fill="#cb622f"/>
<path d="M466.1 400.2V479.8M611.4 513.5V528.6" stroke="#111" stroke-width="1.9"/>
<rect x="393.3" y="389.9" width="291.09999999999997" height="216.89999999999998" fill="none" stroke="#2e2e2e" stroke-width="1.25"/>
<text x="385.6" y="609.4" font-size="16.2" text-anchor="end" font-weight="normal" fill="#2b2b2b" textLength="8.6" lengthAdjust="spacingAndGlyphs" >0</text>
<text x="385.6" y="547.2" font-size="16.2" text-anchor="end" font-weight="normal" fill="#2b2b2b" textLength="21.8" lengthAdjust="spacingAndGlyphs" >0.5</text>
<text x="385.6" y="482.0" font-size="16.2" text-anchor="end" font-weight="normal" fill="#2b2b2b" textLength="21.8" lengthAdjust="spacingAndGlyphs" >1.0</text>
<text x="385.6" y="416.7" font-size="16.2" text-anchor="end" font-weight="normal" fill="#2b2b2b" textLength="21.8" lengthAdjust="spacingAndGlyphs" >1.5</text>
<path d="M387.3 606.80H393.3M387.3 541.55H393.3M387.3 476.30H393.3M387.3 411.05H393.3M465.9 606.8v5.5M612 606.8v5.5" stroke="#2e2e2e" stroke-width="1.1" fill="none"/>
<text transform="translate(355.1 578.3) rotate(-90)" font-size="16.6" fill="#2b2b2b" textLength="160.5" lengthAdjust="spacingAndGlyphs">Emission Rate (Tg a<tspan font-size="9" dy="-5.5">-1</tspan><tspan dy="5.5">)</tspan></text>
<text transform="translate(471 621.5) rotate(-35.5)" font-size="18" text-anchor="end" fill="#2b2b2b" textLength="129" lengthAdjust="spacingAndGlyphs">Total Emissions</text>
<text transform="translate(617 623.5) rotate(-35.5)" font-size="18" text-anchor="end" fill="#2b2b2b" textLength="137.5" lengthAdjust="spacingAndGlyphs">Super-Emissions</text>
<text y="384" font-size="23.8" fill="#2b2b2b"><tspan x="397.1" textLength="54.7" lengthAdjust="spacingAndGlyphs">Total</tspan> <tspan x="456.7" textLength="32.4" lengthAdjust="spacingAndGlyphs">vs.</tspan> <tspan x="497.2" textLength="60.8" lengthAdjust="spacingAndGlyphs">Super</tspan> <tspan x="566.1" textLength="112.8" lengthAdjust="spacingAndGlyphs">Emissions</tspan></text>
<text x="652.2" y="420.7" font-size="24" text-anchor="start" font-weight="bold" fill="#231f20" >d</text>
</svg></body></html>
